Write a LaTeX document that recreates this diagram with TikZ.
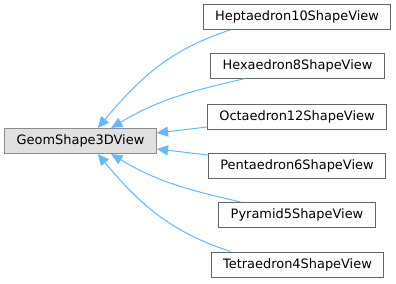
\documentclass[tikz,border=0pt]{standalone}
\usepackage{fontspec}
\setmainfont{DejaVu Sans}
\usetikzlibrary{arrows.meta}
\definecolor{edgeblue}{HTML}{63B8FF}

\begin{document}
\begin{tikzpicture}[x=0.75pt, y=0.75pt, font=\fontsize{9.7}{12}\selectfont,
  cls/.style={draw=black!60, fill=white, line width=0.75pt, minimum height=18.75pt, inner xsep=8.9pt, inner ysep=0pt},
  base/.style={cls, draw=black!45, fill=black!12},
  inh/.style={edgeblue, line width=0.75pt, -{Triangle[length=8.5pt, width=7.5pt]}}]
  \useasboundingbox (0,0) rectangle (396,283);
  % base class
  \node[base] (geom) at (80.5,142) {GeomShape3DView};
  % derived views
  \node[cls] (hepta) at (297,266) {Heptaedron10ShapeView};
  \node[cls] (hexa) at (297.5,217.5) {Hexaedron8ShapeView};
  \node[cls] (octa) at (297,166.5) {Octaedron12ShapeView};
  \node[cls] (penta) at (297,117.5) {Pentaedron6ShapeView};
  \node[cls] (pyra) at (297,68) {Pyramid5ShapeView};
  \node[cls] (tetra) at (297.5,18.5) {Tetraedron4ShapeView};
  % inheritance edges
  \draw[inh] (hepta.191) to[out=198, in=50] (geom.37);
  \draw[inh] (hexa.194) to[out=193, in=31] (geom.23);
  \draw[inh] (octa.west |- 0,156) -- (geom.6);
  \draw[inh] (penta.west |- 0,128) -- (geom.-6);
  \draw[inh] (pyra.167) to[out=167, in=-31] (geom.-23);
  \draw[inh] (tetra.169) to[out=162, in=-50] (geom.-37);
\end{tikzpicture}
\end{document}
